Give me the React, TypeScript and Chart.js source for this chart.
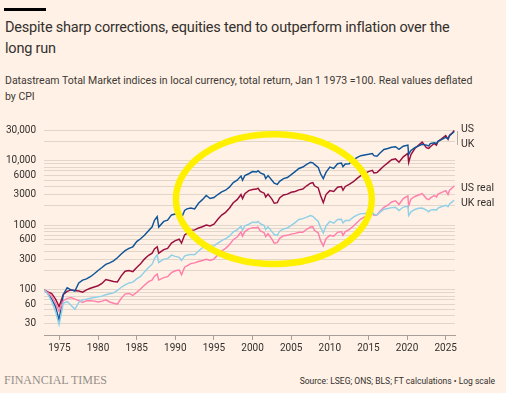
import React, { useEffect, useRef } from "react";
import { Chart, registerables } from "chart.js";

Chart.register(...registerables);

// ---- Data (Jan 1 1973 = 100, log scale) ----
const dates = [
  1973.0, 1973.5, 1974.0, 1974.5, 1974.95, 1975.5, 1976.0, 1976.5, 1977.0, 1977.5,
  1978.0, 1978.5, 1979.0, 1979.5, 1980.0, 1980.5, 1981.0, 1981.5, 1982.0, 1982.5,
  1983.0, 1983.5, 1984.0, 1984.5, 1985.0, 1985.5, 1986.0, 1986.5, 1987.0, 1987.3, 1987.65,
  1987.85, 1988.5, 1989.0, 1989.5, 1990.0, 1990.5, 1990.8, 1991.2, 1991.5, 1992.0,
  1992.5, 1993.0, 1993.5, 1994.0, 1994.5, 1995.0, 1995.5, 1996.0, 1996.5, 1997.0,
  1997.5, 1998.0, 1998.5, 1998.7, 1999.0, 1999.5, 2000.0, 2000.5, 2000.7, 2001.0,
  2001.5, 2001.7, 2002.0, 2002.5, 2002.8, 2003.2, 2003.5, 2004.0, 2004.5, 2005.0,
  2005.5, 2006.0, 2006.5, 2007.0, 2007.5, 2007.8, 2008.0, 2008.5, 2008.8, 2009.15,
  2009.5, 2010.0, 2010.5, 2011.0, 2011.5, 2011.7, 2012.0, 2012.5, 2013.0, 2013.5,
  2014.0, 2014.5, 2015.0, 2015.5, 2015.7, 2016.1, 2016.5, 2017.0, 2017.5, 2018.0,
  2018.5, 2018.95, 2019.5, 2020.1, 2020.2, 2020.5, 2021.0, 2021.5, 2021.95, 2022.5,
  2022.8, 2023.0, 2023.5, 2023.8, 2024.0, 2024.5, 2025.0, 2025.3, 2025.5, 2025.9, 2026.1,
];

const usNominal = [
  100, 93, 88, 72, 55, 85, 95, 100, 98, 96,
  92, 100, 106, 111, 116, 126, 145, 140, 135, 133,
  165, 195, 200, 192, 222, 255, 300, 340, 370, 430, 465,
  370, 420, 440, 530, 580, 610, 530, 710, 750, 830,
  850, 910, 950, 1010, 980, 1040, 1240, 1440, 1590, 1840,
  2240, 2500, 3000, 2600, 3100, 3450, 3600, 3650, 3750, 3350,
  3150, 2750, 3050, 2550, 2200, 2250, 2650, 2950, 3050, 3250,
  3350, 3550, 3650, 4100, 4500, 4600, 4100, 3800, 2900, 2250,
  3000, 3450, 3350, 3900, 4000, 3500, 4000, 4300, 4700, 5300,
  5900, 6400, 6800, 7100, 6500, 6600, 7300, 8300, 9300, 10400,
  10700, 9500, 11500, 13000, 9400, 12500, 15500, 17500, 19500, 16000,
  15500, 16500, 18500, 17500, 20000, 22000, 24500, 21500, 25000, 27500, 29500,
];

const ukNominal = [
  100, 88, 72, 55, 34, 85, 108, 100, 96, 128,
  142, 148, 160, 178, 200, 222, 248, 262, 282, 315,
  360, 405, 440, 465, 560, 620, 700, 820, 950, 1200, 1370,
  940, 1150, 1200, 1450, 1500, 1550, 1300, 1700, 1800, 1850,
  1800, 2200, 2500, 2900, 2600, 2700, 3000, 3300, 3500, 3900,
  4600, 5000, 5800, 5000, 5900, 6300, 6800, 6700, 7000, 6500,
  6100, 5300, 5900, 5000, 4500, 4300, 4800, 5300, 5500, 6100,
  6800, 7600, 8000, 8800, 9500, 9300, 8800, 7900, 6300, 5300,
  6600, 8000, 7600, 9000, 9200, 8100, 8900, 9000, 10200, 11200,
  12000, 12300, 12600, 13000, 12000, 11800, 13200, 15000, 15500, 16200,
  16500, 15000, 16800, 17500, 12600, 14500, 16000, 17000, 18000, 17500,
  17000, 18500, 19000, 18500, 20000, 21500, 23000, 22000, 24500, 27000, 28500,
];

const usReal = [
  100, 90, 80, 62, 47, 68, 74, 76, 72, 68,
  64, 68, 68, 67, 65, 67, 70, 65, 62, 60,
  74, 86, 88, 82, 92, 103, 118, 133, 143, 163, 176,
  142, 155, 160, 185, 198, 203, 172, 225, 235, 255,
  262, 275, 285, 298, 285, 300, 350, 400, 440, 500,
  600, 660, 790, 680, 800, 880, 920, 920, 940, 820,
  770, 670, 740, 610, 530, 540, 630, 690, 700, 730,
  750, 780, 780, 870, 940, 950, 840, 760, 580, 480,
  620, 700, 680, 780, 800, 700, 800, 860, 960, 1100,
  1250, 1350, 1450, 1550, 1430, 1450, 1650, 1900, 2050, 2300,
  2400, 2100, 2600, 2850, 2000, 2550, 2800, 2950, 3100, 2600,
  2500, 2650, 2900, 2750, 3050, 3250, 3450, 3000, 3500, 3850, 4100,
];

const ukReal = [
  100, 86, 66, 46, 29, 62, 66, 58, 50, 64,
  70, 72, 74, 76, 78, 80, 84, 87, 90, 98,
  110, 120, 128, 132, 148, 162, 190, 220, 250, 305, 350,
  265, 300, 305, 345, 330, 320, 285, 335, 345, 355,
  350, 400, 450, 520, 470, 480, 530, 580, 620, 680,
  790, 850, 970, 840, 980, 1040, 1120, 1110, 1150, 1060,
  990, 860, 950, 800, 720, 700, 810, 880, 910, 1000,
  1100, 1230, 1270, 1340, 1420, 1380, 1300, 1150, 920, 760,
  980, 1150, 1080, 1230, 1240, 1090, 1190, 1190, 1330, 1440,
  1520, 1530, 1570, 1610, 1480, 1450, 1600, 1780, 1820, 1880,
  1900, 1700, 1920, 1980, 1420, 1620, 1760, 1840, 1850, 1720,
  1620, 1720, 1760, 1720, 1850, 1960, 2050, 1950, 2150, 2350, 2450,
];

const xTicks = [1975, 1980, 1985, 1990, 1995, 2000, 2005, 2010, 2015, 2020, 2025];
const yGrid = [
  20, 30, 40, 50, 60, 70, 80, 90,
  100, 200, 300, 400, 500, 600, 700, 800, 900,
  1000, 2000, 3000, 4000, 5000, 6000, 7000, 8000, 9000,
  10000, 20000, 30000,
];
const yLabelValues = [30, 60, 100, 300, 600, 1000, 3000, 6000, 10000, 30000];
const yLabelTexts = ["30", "60", "100", "300", "600", "1000", "3000", "6000", "10,000", "30,000"];

// highlighted period (annotation ellipse) in data terms
const highlightYears = [1990.07, 2015.43];
const highlightValues = [252, 25800];

const BG = "#fff1e5";
const TEXT = "#33302e";
const C_US = "#990f3d";
const C_UK = "#0f5499";
const C_US_REAL = "#ff7faa";
const C_UK_REAL = "#8fd0e8";
const FONT = "Roboto, 'Noto Sans', sans-serif";

const highlightPlugin = {
  id: "highlightEllipse",
  afterDatasetsDraw(chart: any) {
    const { ctx, scales } = chart;
    const xs = scales.x;
    const ys = scales.y;
    const x0 = xs.getPixelForValue(highlightYears[0]);
    const x1 = xs.getPixelForValue(highlightYears[1]);
    const y0 = ys.getPixelForValue(highlightValues[0]);
    const y1 = ys.getPixelForValue(highlightValues[1]);
    ctx.save();
    ctx.beginPath();
    ctx.ellipse((x0 + x1) / 2, (y0 + y1) / 2, Math.abs(x1 - x0) / 2, Math.abs(y1 - y0) / 2, 0, 0, Math.PI * 2);
    ctx.lineWidth = 6.5;
    ctx.strokeStyle = "#fff000";
    ctx.stroke();
    ctx.restore();
  },
};

function series(label: string, values: number[], color: string) {
  return {
    label,
    data: dates.map((d, i) => ({ x: d, y: values[i] })),
    borderColor: color,
    backgroundColor: color,
    borderWidth: 1.45,
    pointRadius: 0,
    tension: 0,
    fill: false,
  };
}

export default function App() {
  const ref = useRef<HTMLCanvasElement | null>(null);

  useEffect(() => {
    document.body.style.margin = "0";
    document.body.style.background = BG;
    const canvas = ref.current;
    if (!canvas) return;
    const chart = new Chart(canvas, {
      type: "line",
      data: {
        datasets: [
          series("UK real", ukReal, C_UK_REAL),
          series("US real", usReal, C_US_REAL),
          series("UK", ukNominal, C_UK),
          series("US", usNominal, C_US),
        ],
      } as any,
      options: {
        animation: false,
        responsive: false,
        devicePixelRatio: 1,
        layout: { padding: { top: 20, right: 51, left: 0, bottom: 0 } },
        plugins: { legend: { display: false }, tooltip: { enabled: false } },
        scales: {
          x: {
            type: "linear",
            min: 1973,
            max: 2026.2,
            afterBuildTicks: (scale: any) => {
              scale.ticks = xTicks.map((v) => ({ value: v }));
            },
            afterFit: (scale: any) => {
              scale.height = 25;
            },
            ticks: {
              autoSkip: false,
              maxRotation: 0,
              padding: 2,
              color: TEXT,
              font: { family: FONT, size: 10 },
              callback: (v: any) => String(v),
            },
            grid: {
              drawOnChartArea: false,
              drawTicks: true,
              tickLength: 5,
              color: "#a8a098",
            },
            border: { display: true, color: "#a8a098", width: 1 },
          },
          y: {
            type: "logarithmic",
            min: 20,
            max: 30000,
            afterBuildTicks: (scale: any) => {
              scale.ticks = yGrid.map((v) => ({ value: v }));
            },
            afterFit: (scale: any) => {
              scale.width = 44;
            },
            ticks: {
              autoSkip: false,
              padding: 8,
              color: TEXT,
              font: { family: FONT, size: 10 },
              callback: (v: any) => {
                const i = yLabelValues.indexOf(Number(v));
                return i >= 0 ? yLabelTexts[i] : "";
              },
            },
            grid: { color: "#e2d6ca", drawTicks: false, lineWidth: 1 },
            border: { display: false },
          },
        },
      } as any,
      plugins: [highlightPlugin],
    });
    return () => chart.destroy();
  }, []);

  const abs = (s: React.CSSProperties): React.CSSProperties => ({ position: "absolute", whiteSpace: "nowrap", ...s });

  return (
    <div style={{ position: "fixed", left: 0, top: 0, width: 506, height: 393, background: BG, overflow: "hidden", fontFamily: FONT, color: TEXT }}>
      <div style={abs({ left: 4, top: 8, width: 42, height: 3, background: "#000" })} />
      <div style={abs({ left: 5, top: 17, fontSize: 14.5, lineHeight: "21px", letterSpacing: -0.2 })}>
        Despite sharp corrections, equities tend to outperform inflation over the
        <br />
        long run
      </div>
      <div style={abs({ left: 5, top: 73, fontSize: 10.5, lineHeight: "16px", color: "#3d3935" })}>
        Datastream Total Market indices in local currency, total return, Jan 1 1973 =100. Real values deflated
        <br />
        by CPI
      </div>
      <canvas ref={ref} width={506} height={250} style={{ position: "absolute", left: 0, top: 110, width: 506, height: 250 }} />
      <div style={abs({ left: 457, top: 131, width: 1, height: 14, background: "#b5ada5" })} />
      <div style={abs({ left: 461, top: 123, fontSize: 10.5, lineHeight: "12px" })}>US</div>
      <div style={abs({ left: 461, top: 138, fontSize: 10.5, lineHeight: "12px" })}>UK</div>
      <div style={abs({ left: 461, top: 182, fontSize: 10.5, lineHeight: "12px" })}>US real</div>
      <div style={abs({ left: 461, top: 197, fontSize: 10.5, lineHeight: "12px" })}>UK real</div>
      <div style={abs({ left: 4, top: 373, fontSize: 12, lineHeight: "15px", fontFamily: "'Liberation Serif', 'DejaVu Serif', serif", color: "#948e89" })}>
        FINANCIAL TIMES
      </div>
      <div style={abs({ right: 11, top: 375, fontSize: 8.5, lineHeight: "12px" })}>
        Source: LSEG; ONS; BLS; FT calculations • Log scale
      </div>
    </div>
  );
}
